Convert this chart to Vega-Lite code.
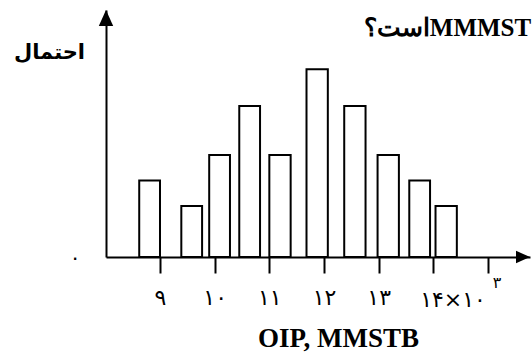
{
  "$schema": "https://vega.github.io/schema/vega-lite/v6.json",
  "width": 424,
  "height": 247,
  "autosize": {"type": "none"},
  "padding": {"left": 106, "top": 10, "right": 2, "bottom": 98},
  "background": "white",
  "config": {"view": {"stroke": null}},
  "datasets": {
    "bars": [
      {"start": 8.62, "end": 9.0, "p": 0.075},
      {"start": 9.39, "end": 9.77, "p": 0.05},
      {"start": 9.9, "end": 10.28, "p": 0.1},
      {"start": 10.45, "end": 10.83, "p": 0.148},
      {"start": 11.0, "end": 11.39, "p": 0.1},
      {"start": 11.68, "end": 12.07, "p": 0.184},
      {"start": 12.37, "end": 12.76, "p": 0.148},
      {"start": 12.98, "end": 13.37, "p": 0.1},
      {"start": 13.56, "end": 13.94, "p": 0.075},
      {"start": 14.04, "end": 14.43, "p": 0.05}
    ],
    "one": [{}]
  },
  "layer": [
    {
      "data": {"name": "bars"},
      "mark": {"type": "rect", "fill": "white", "stroke": "black", "strokeWidth": 2},
      "encoding": {
        "x": {
          "field": "start",
          "type": "quantitative",
          "scale": {"domain": [8.0122, 15.7683], "nice": false, "zero": false},
          "axis": {
            "values": [9, 10, 11, 12, 13, 14, 15],
            "labelExpr": "datum.value == 9 ? '۹' : datum.value == 10 ? '۱۰' : datum.value == 11 ? '۱۱' : datum.value == 12 ? '۱۲' : datum.value == 13 ? '۱۳' : ''",
            "grid": false,
            "domainColor": "black",
            "domainWidth": 2,
            "tickColor": "black",
            "tickWidth": 2,
            "tickSize": 16,
            "labelPadding": 14,
            "labelFont": "DejaVu Sans",
            "labelFontSize": 22,
            "labelColor": "black",
            "labelFlush": false,
            "labelOverlap": false,
            "title": "OIP, MMSTB",
            "titleFont": "Liberation Serif",
            "titleFontSize": 27,
            "titleFontWeight": "bold",
            "titleColor": "black",
            "titleX": 232,
            "titleY": 81,
            "titleAlign": "center",
            "titleBaseline": "middle"
          }
        },
        "x2": {"field": "end"},
        "y": {
          "field": "p",
          "type": "quantitative",
          "scale": {"domain": [0, 0.2422], "nice": false},
          "axis": {
            "values": [0],
            "labelExpr": "'۰'",
            "ticks": false,
            "grid": false,
            "domainColor": "black",
            "domainWidth": 2,
            "labelPadding": 26,
            "labelFont": "DejaVu Sans",
            "labelFontSize": 20,
            "labelColor": "black",
            "labelFlush": false,
            "title": "احتمال",
            "titleAngle": 0,
            "titleX": -57,
            "titleY": 42,
            "titleAlign": "center",
            "titleBaseline": "middle",
            "titleFont": "DejaVu Sans",
            "titleFontWeight": "bold",
            "titleFontSize": 21,
            "titleColor": "black"
          }
        },
        "y2": {"datum": 0}
      }
    },
    {
      "data": {"name": "one"},
      "mark": {"type": "point", "shape": "M1,0L-1,-0.9L-1,0.9Z", "filled": true, "color": "black", "size": 196, "opacity": 1},
      "encoding": {"x": {"datum": 15.64}, "y": {"datum": 0}}
    },
    {
      "data": {"name": "one"},
      "mark": {"type": "point", "shape": "M0,-1L-0.9,1L0.9,1Z", "filled": true, "color": "black", "size": 256, "opacity": 1},
      "encoding": {"x": {"datum": 8.0122}, "y": {"datum": 0.2344}}
    },
    {
      "data": {"name": "one"},
      "mark": {"type": "text", "text": "۱۴×۱۰", "font": "DejaVu Sans", "fontSize": 22, "color": "black", "align": "center", "baseline": "middle"},
      "encoding": {"x": {"datum": 14.36}, "y": {"datum": -0.042}}
    },
    {
      "data": {"name": "one"},
      "mark": {"type": "text", "text": "۳", "font": "DejaVu Sans", "fontSize": 16, "color": "black", "align": "center", "baseline": "middle"},
      "encoding": {"x": {"datum": 15.165}, "y": {"datum": -0.0255}}
    },
    {
      "data": {"name": "one"},
      "mark": {"type": "text", "text": "است؟MMMST", "font": "Liberation Serif", "fontWeight": "bold", "fontSize": 25, "color": "black", "align": "right", "baseline": "middle"},
      "encoding": {"x": {"datum": 15.79}, "y": {"datum": 0.2245}}
    }
  ]
}
